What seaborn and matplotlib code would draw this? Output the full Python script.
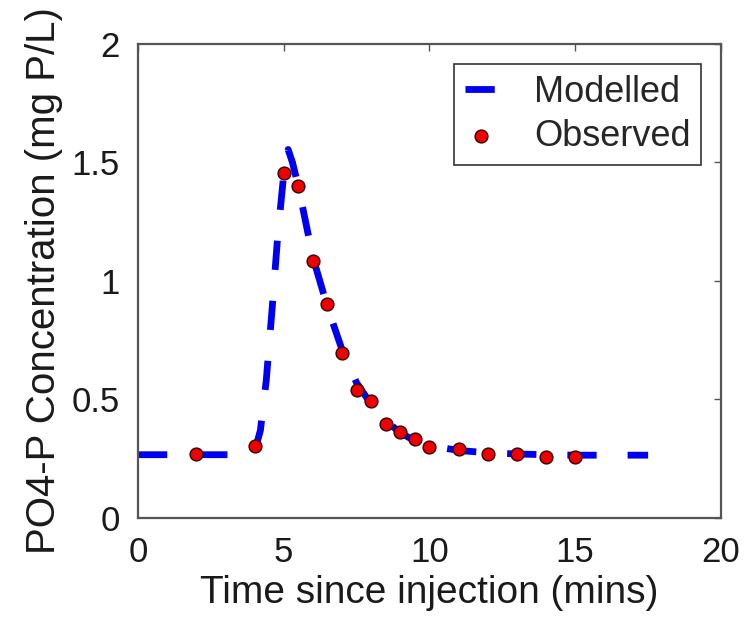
import numpy as np
import pandas as pd
import matplotlib
matplotlib.use("Agg")
import matplotlib.pyplot as plt
import seaborn as sns

# ----------------------------
# Data
# ----------------------------

obs_time = [2, 4, 5, 5.5, 6, 6.5, 7, 7.5, 8, 8.5, 9, 9.5, 10, 11, 12, 13, 14, 15]
obs_conc = [0.27, 0.305, 1.455, 1.40, 1.085, 0.905, 0.695, 0.54, 0.495, 0.395,
            0.362, 0.332, 0.30, 0.293, 0.27, 0.27, 0.257, 0.257]

model_time = [0, 3.9, 4.0, 4.2, 4.4, 4.6, 4.8, 5.0, 5.15, 5.3, 5.5, 6.0, 6.5,
              7.0, 7.5, 8.0, 8.5, 9.0, 9.5, 10, 11, 12, 13, 14, 15, 16, 17.5]
model_conc = [0.267, 0.267, 0.28, 0.37, 0.58, 0.88, 1.20, 1.45, 1.555, 1.50,
              1.40, 1.10, 0.89, 0.71, 0.57, 0.48, 0.41, 0.36, 0.325, 0.305,
              0.285, 0.275, 0.27, 0.267, 0.265, 0.265, 0.265]

df_obs = pd.DataFrame({"time": obs_time, "conc": obs_conc})
df_mod = pd.DataFrame({"time": model_time, "conc": model_conc})

# ----------------------------
# Plot
# ----------------------------

sns.set_theme(style="white")
plt.rcParams["font.family"] = ["Liberation Sans", "DejaVu Sans"]

fig = plt.figure(figsize=(7.47, 6.34), dpi=100)
ax = fig.add_axes([0.1847, 0.1830, 0.7805, 0.7476])

sns.lineplot(
    data=df_mod, x="time", y="conc", ax=ax,
    color="#0000f0", linewidth=4.9, label="Modelled",
    linestyle=(0, (4.3, 4.55)), dash_capstyle="butt",
)

sns.scatterplot(
    data=df_obs, x="time", y="conc", ax=ax,
    color="#ee0000", edgecolor="#3a0000", linewidth=1.0,
    s=85, label="Observed", zorder=3,
)

ax.set_xlim(0, 20)
ax.set_ylim(0, 2)
ax.set_xticks([0, 5, 10, 15, 20])
ax.set_yticks([0, 0.5, 1, 1.5, 2])
ax.set_xticklabels(["0", "5", "10", "15", "20"])
ax.set_yticklabels(["0", "0.5", "1", "1.5", "2"])

ax.tick_params(direction="in", top=True, right=True, length=5, width=1,
               colors="#555555", labelcolor="#1a1a1a", labelsize=25, pad=13)

for side in ax.spines.values():
    side.set_color("#555555")
    side.set_linewidth(1.6)

ax.set_xlabel("Time since injection (mins)", fontsize=28, color="#1a1a1a", labelpad=4)
ax.set_ylabel("PO4-P Concentration (mg P/L)", fontsize=29, color="#1a1a1a", labelpad=6)

leg = ax.legend(loc="upper right", fontsize=26, frameon=True, fancybox=False,
                edgecolor="#333333", framealpha=1, handlelength=0.9,
                handletextpad=1.0, borderpad=0.3, labelspacing=0.25,
                borderaxespad=0.55)
leg.get_frame().set_linewidth(1.2)

fig.savefig("out.png", dpi=100)
